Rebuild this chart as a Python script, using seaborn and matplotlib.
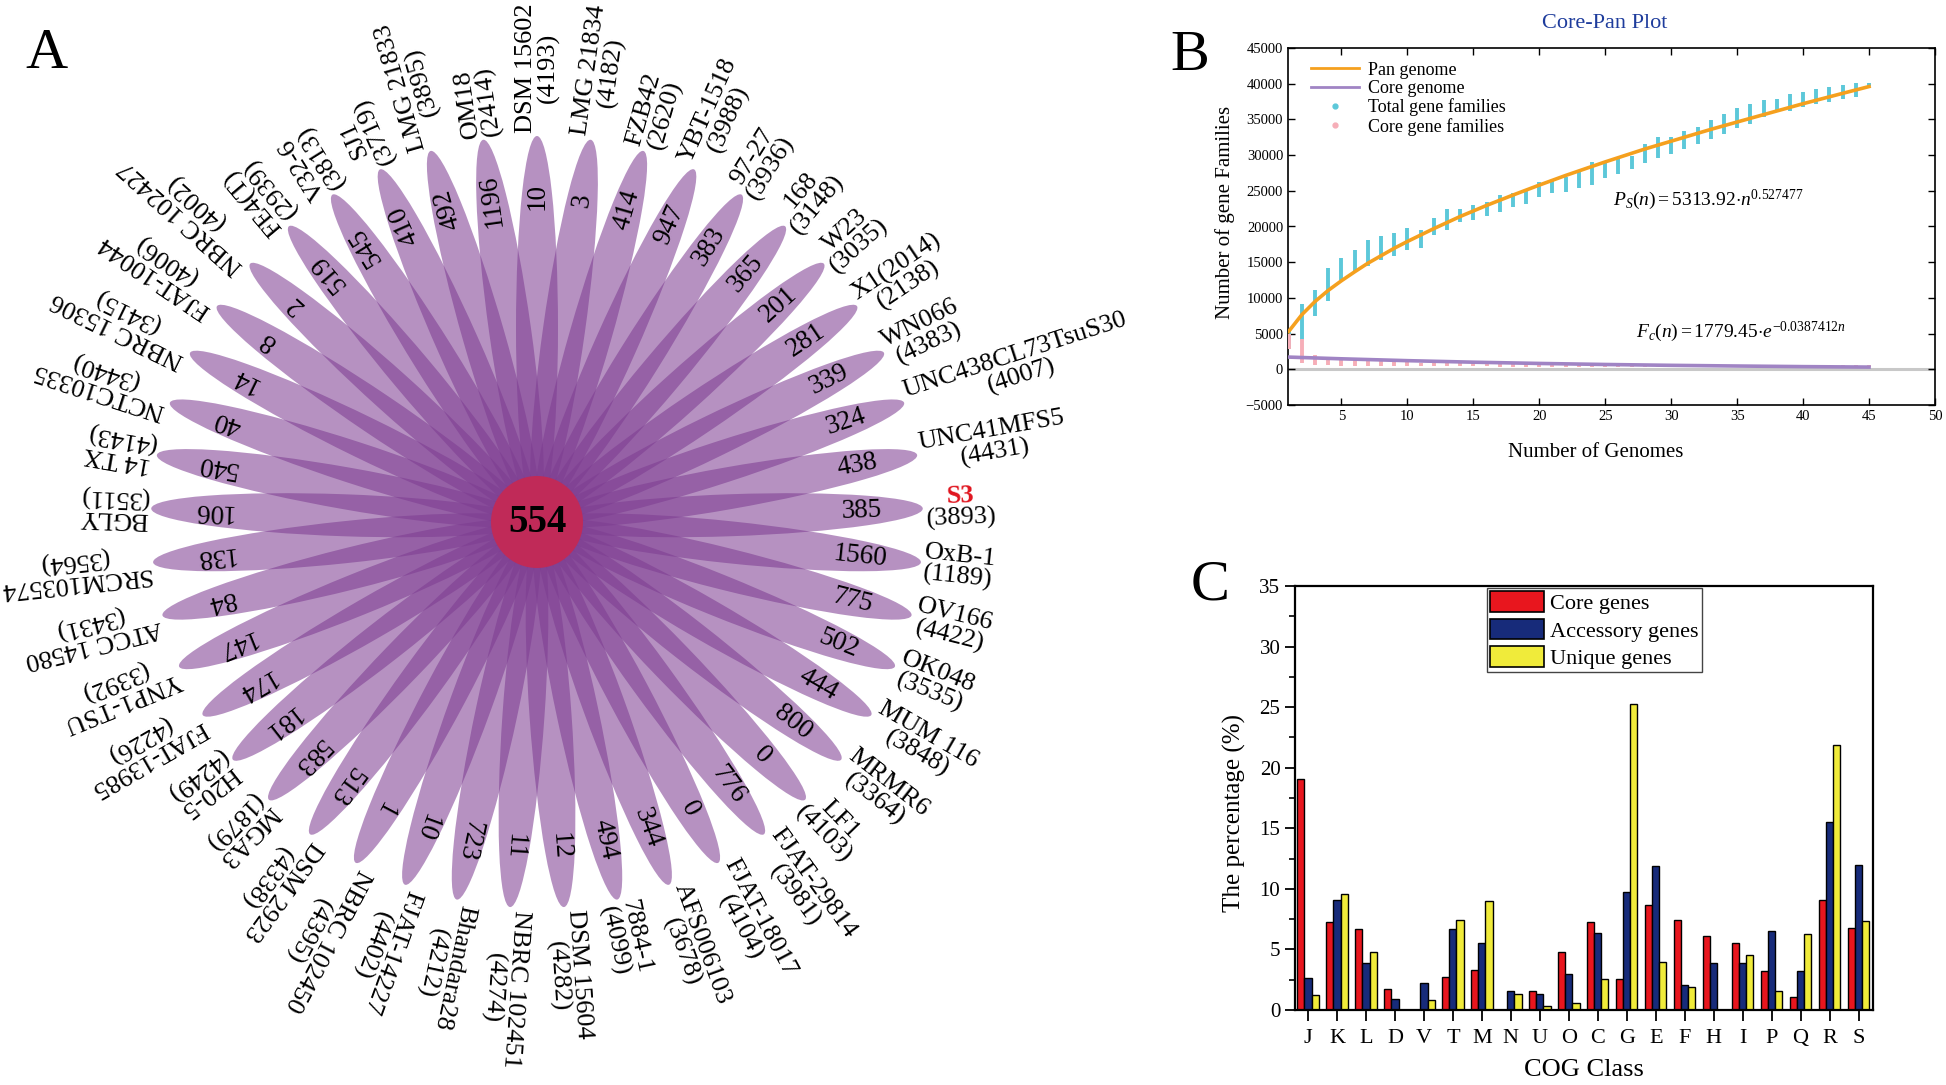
import numpy as np
import pandas as pd
import matplotlib
matplotlib.use("Agg")
import matplotlib.pyplot as plt
import seaborn as sns
from matplotlib.patches import Ellipse, Circle, Patch
from matplotlib.lines import Line2D
from matplotlib.textpath import TextPath
from matplotlib.font_manager import FontProperties

# ---------------- Panel A data (clockwise from top) ----------------
genome_names = ["DSM 15602", "LMG 21834", "FZB42", "YBT-1518", "97-27", "168", "W23",
                "X1(2014)", "WN066", "UNC438CL73TsuS30", "UNC41MFS5", "S3", "OxB-1",
                "OV166", "OK048", "MUM 116", "MRMR6", "LF1", "FJAT-29814", "FJAT-18017",
                "AFS006103", "7884-1", "DSM 15604", "NBRC 102451", "Bhandara28",
                "FJAT-14227", "NBRC 102450", "DSM 2923", "MGA3", "H20-5", "FJAT-13985",
                "YNP1-TSU", "ATCC 14580", "SRCM103574", "BGLY", "14 TX", "NCTC10335",
                "NBRC 15306", "FJAT-10044", "NBRC 102427", "FE4(T)", "V32-6", "SJ1",
                "LMG 21833", "OM18"]
genome_genes = [4193, 4182, 2620, 3988, 3936, 3148, 3035, 2138, 4383, 4007, 4431, 3893,
                1189, 4422, 3535, 3848, 3364, 4103, 3981, 4104, 3678, 4099, 4282, 4274,
                4212, 4402, 4395, 4338, 1879, 4249, 4226, 3392, 3431, 3564, 3511, 4143,
                3440, 3415, 4006, 4002, 2939, 3813, 3719, 3895, 2414]
unique_genes = [10, 3, 414, 947, 383, 365, 201, 281, 339, 324, 438, 385, 1560, 775, 502,
                444, 800, 0, 776, 0, 344, 494, 12, 11, 723, 10, 1, 513, 583, 181, 174,
                147, 84, 138, 106, 540, 40, 14, 8, 2, 519, 545, 410, 492, 1196]
core_count = 554
highlight = "S3"

# ---------------- Panel B data ----------------
n_genomes = list(range(1, 46))
total_min = [2900, 4100, 7400, 9500, 12500, 13700, 14400, 15300, 15800, 16700,
             17000, 18800, 19500, 20700, 20900, 21500, 22100, 22700, 23200, 24100,
             24700, 24900, 25400, 25800, 26800, 27400, 28000, 28900, 29600, 30200,
             30800, 31600, 32200, 32900, 33800, 34400, 35400, 36000, 36200, 36800,
             37200, 37500, 37800, 38200, 39700]
total_max = [5300, 9200, 11100, 14200, 15600, 16700, 18100, 18600, 19100, 19800,
             19500, 21200, 22400, 22400, 23000, 23500, 24400, 24700, 25300, 26200,
             26500, 27000, 27800, 29100, 29100, 29600, 29900, 31600, 32500, 32500,
             33400, 34000, 34900, 35700, 36600, 37200, 37700, 37900, 38500, 38900,
             39200, 39500, 39800, 40100, 40100]
core_min = [2900, 900, 650, 600, 450, 450, 450, 430, 430, 420,
            420, 410, 410, 400, 400, 400, 390, 390, 380, 380,
            380, 370, 370, 360, 360, 360, 350, 350, 350, 340,
            340, 340, 330, 330, 330, 320, 320, 320, 310, 310,
            310, 300, 300, 300, 300]
core_max = [5000, 4300, 2000, 1700, 1300, 1250, 1150, 1100, 1050, 1000,
            950, 930, 900, 880, 860, 840, 820, 800, 790, 780,
            770, 760, 750, 740, 730, 720, 710, 700, 690, 680,
            670, 660, 650, 640, 630, 620, 610, 600, 600, 590,
            580, 570, 560, 550, 540]
pan_curve_n = [1, 2, 3, 4, 5, 6, 7, 8, 9, 10, 12, 14, 16, 18, 20, 22, 25, 28, 30, 33,
               36, 40, 43, 45]
pan_curve_v = [5300, 7650, 9500, 11050, 12400, 13650, 14850, 15900, 16950, 17900,
               19700, 21400, 22950, 24400, 25800, 27150, 29050, 30850, 31950, 33600,
               35150, 37200, 38650, 39600]
core_curve_n = [1, 5, 10, 15, 20, 25, 30, 35, 40, 45]
core_curve_v = [1710, 1470, 1210, 995, 820, 675, 555, 460, 375, 310]

# ---------------- Panel C data ----------------
cog_classes = ["J", "K", "L", "D", "V", "T", "M", "N", "U", "O", "C", "G", "E", "F",
               "H", "I", "P", "Q", "R", "S"]
core_pct = [19.1, 7.3, 6.7, 1.75, 0.0, 2.7, 3.3, 0.0, 1.6, 4.8, 7.25, 2.6, 8.7, 7.4,
            6.1, 5.55, 3.2, 1.05, 9.05, 6.8]
acc_pct = [2.65, 9.1, 3.9, 0.9, 2.25, 6.65, 5.5, 1.55, 1.3, 3.0, 6.35, 9.75, 11.9, 2.05,
           3.9, 3.9, 6.55, 3.2, 15.55, 11.95]
uniq_pct = [1.2, 9.6, 4.75, 0.0, 0.85, 7.45, 9.0, 1.35, 0.3, 0.6, 2.6, 25.3, 4.0, 1.9,
            0.0, 4.5, 1.55, 6.25, 21.85, 7.35]
gene_types = ["Core genes", "Accessory genes", "Unique genes"]

# ---------------- style ----------------
plt.rcParams["font.family"] = ["Liberation Serif", "DejaVu Serif"]
plt.rcParams["mathtext.fontset"] = "custom"
plt.rcParams["mathtext.rm"] = "Liberation Serif"
plt.rcParams["mathtext.it"] = "Liberation Serif:italic"
plt.rcParams["axes.linewidth"] = 1.2

DPI = 100
W, H = 1946, 1085
fig = plt.figure(figsize=(W / DPI, H / DPI), dpi=DPI)

# ================= Panel A : flower =================
axA = fig.add_axes([0, 0, 1, 1])
axA.set_xlim(0, W)
axA.set_ylim(0, H)
axA.axis("off")

cx, cy = 537, H - 522
R_tip = 386
a_half, b_half = 192, 21
rc = R_tip - a_half
petal_color = "#7D3C91"
n_pet = len(genome_names)
step = 360.0 / n_pet

LAB_FS = 19
fp_lab = FontProperties(family="Liberation Serif", size=LAB_FS)
fp_bold = FontProperties(family="Liberation Serif", size=LAB_FS, weight="bold")


def wpx(s, fp):
    return TextPath((0, 0), s, prop=fp).get_extents().width * DPI / 72.0


r_num = 325
r_lab = 390
pitch = 22
for k in range(n_pet):
    th = 90 - step * k
    t = np.deg2rad(th)
    ux, uy = np.cos(t), np.sin(t)
    axA.add_patch(Ellipse((cx + rc * ux, cy + rc * uy), 2 * a_half, 2 * b_half,
                          angle=th, facecolor=petal_color, alpha=0.56, lw=0, zorder=1))
    axA.text(cx + r_num * ux, cy + r_num * uy, str(unique_genes[k]), rotation=th,
             rotation_mode="anchor", ha="center", va="center", fontsize=19.5, zorder=5)
    name = genome_names[k]
    cnt = "(%d)" % genome_genes[k]
    is_hl = name == highlight
    w1 = wpx(name, fp_bold if is_hl else fp_lab)
    w2 = wpx(cnt, fp_lab)
    rm = r_lab + max(w1, w2) / 2.0
    mx, my = cx + rm * ux, cy + rm * uy
    px, py = -uy, ux
    axA.text(mx + px * pitch / 2, my + py * pitch / 2, name, rotation=th,
             rotation_mode="anchor", ha="center", va="center", fontsize=LAB_FS,
             fontweight="bold" if is_hl else "normal",
             color="#E0141E" if is_hl else "black", zorder=5)
    axA.text(mx - px * pitch / 2, my - py * pitch / 2, cnt, rotation=th,
             rotation_mode="anchor", ha="center", va="center", fontsize=LAB_FS,
             zorder=5)

axA.add_patch(Circle((cx, cy), 46, facecolor="#C02A58", lw=0, zorder=3))
axA.text(cx, cy, str(core_count), ha="center", va="center", fontsize=28,
         fontweight="bold", zorder=6)

fig.text(46 / W, 1 - 54 / H, "A", fontsize=42, ha="center", va="center")
fig.text(1190 / W, 1 - 56 / H, "B", fontsize=42, ha="center", va="center")
fig.text(1210 / W, 1 - 585 / H, "C", fontsize=42, ha="center", va="center")

# ================= Panel B : core-pan =================
bl, br, bt, bb = 1288, 1935, 48, 405
axB = fig.add_axes([bl / W, 1 - bb / H, (br - bl) / W, (bb - bt) / H])
cyan, pink = "#5CC8D9", "#F6AEB8"
orange, purple = "#F5A01E", "#A084C4"
axB.axhline(0, color="#C8C8C8", lw=2.2, zorder=1)
axB.vlines(n_genomes, total_min, total_max, color=cyan, lw=2.8, zorder=2)
axB.vlines(n_genomes, core_min, core_max, color=pink, lw=2.8, zorder=3)
sns.lineplot(x=pan_curve_n, y=pan_curve_v, color=orange, lw=2.6, ax=axB,
             legend=False, zorder=4)
sns.lineplot(x=core_curve_n, y=core_curve_v, color=purple, lw=2.6, ax=axB,
             legend=False, zorder=4)
axB.set_xlim(0.95, 50)
axB.set_ylim(-5000, 45000)
axB.set_xticks(range(5, 51, 5))
axB.set_yticks(range(-5000, 45001, 5000))
axB.tick_params(direction="in", top=True, right=True, length=5, width=1,
                labelsize=10.5)
for s in axB.spines.values():
    s.set_linewidth(1.2)
axB.set_xlabel("Number of Genomes", fontsize=15, va="center")
axB.set_ylabel("Number of gene Families", fontsize=15, va="center")
axB.xaxis.set_label_coords(0.475, -0.134)
axB.yaxis.set_label_coords(-0.097, 0.538)
fig.text(1605 / W, 1 - 23 / H, "Core-Pan Plot", color="#1E3C9C", fontsize=16,
         ha="center", va="center")
axB.text(25.6, 23700, r"$\mathit{P_S(n){=}5313.92{\cdot}n^{0.527477}}$", fontsize=14,
         ha="left", va="center")
axB.text(27.3, 5300, r"$\mathit{F_c(n){=}1779.45{\cdot}e^{-0.0387412n}}$", fontsize=14,
         ha="left", va="center")
legB = [Line2D([], [], color=orange, lw=2),
        Line2D([], [], color=purple, lw=2),
        Line2D([], [], color=cyan, lw=0, marker="o", markersize=3.5),
        Line2D([], [], color=pink, lw=0, marker="o", markersize=3.5)]
axB.legend(legB, ["Pan genome", "Core genome", "Total gene families",
                  "Core gene families"], loc="upper left",
           bbox_to_anchor=(0.035, 0.962), frameon=False, fontsize=13,
           handlelength=2.7, handletextpad=0.45, labelspacing=0.08,
           borderpad=0, borderaxespad=0)

# ================= Panel C : COG bars =================
cl, cr, ct, cb = 1295, 1873, 586, 1010
axC = fig.add_axes([cl / W, 1 - cb / H, (cr - cl) / W, (cb - ct) / H])
df = pd.DataFrame({
    "COG": cog_classes * 3,
    "pct": core_pct + acc_pct + uniq_pct,
    "type": [gene_types[0]] * 20 + [gene_types[1]] * 20 + [gene_types[2]] * 20,
})
bar_colors = ["#E8161E", "#172B7A", "#F0EB3A"]
sns.barplot(data=df, x="COG", y="pct", hue="type", order=cog_classes,
            hue_order=gene_types, palette=bar_colors, saturation=1, width=0.74,
            edgecolor="black", linewidth=1.0, errorbar=None, legend=False, ax=axC)
axC.set_xlim(-0.45, 19.5)
axC.set_ylim(0, 35)
axC.set_yticks(range(0, 36, 5))
axC.set_yticks(np.arange(2.5, 35, 5), minor=True)
axC.tick_params(axis="y", which="major", direction="out", length=7, width=1.3,
                labelsize=15)
axC.tick_params(axis="y", which="minor", direction="out", length=4, width=1.2)
axC.tick_params(axis="x", direction="out", length=8, width=1.3, labelsize=16,
                pad=6)
for s in axC.spines.values():
    s.set_linewidth(1.6)
axC.set_xlabel("COG Class", fontsize=19, va="center")
axC.set_ylabel("The percentage (%)", fontsize=18, va="center")
axC.xaxis.set_label_coords(0.5, -0.142)
axC.yaxis.set_label_coords(-0.104, 0.465)
legC = [Patch(facecolor=c, edgecolor="black", lw=1.2) for c in bar_colors]
lg = axC.legend(legC, gene_types, loc="upper left", bbox_to_anchor=(0.332, 0.995),
                frameon=True, fancybox=False, framealpha=1, edgecolor="#444444",
                fontsize=16, handlelength=2.4, handleheight=1.05, labelspacing=0.2,
                handletextpad=0.3, borderpad=0.15, borderaxespad=0)
lg.get_frame().set_linewidth(1.0)

fig.savefig("out.png", dpi=DPI)
